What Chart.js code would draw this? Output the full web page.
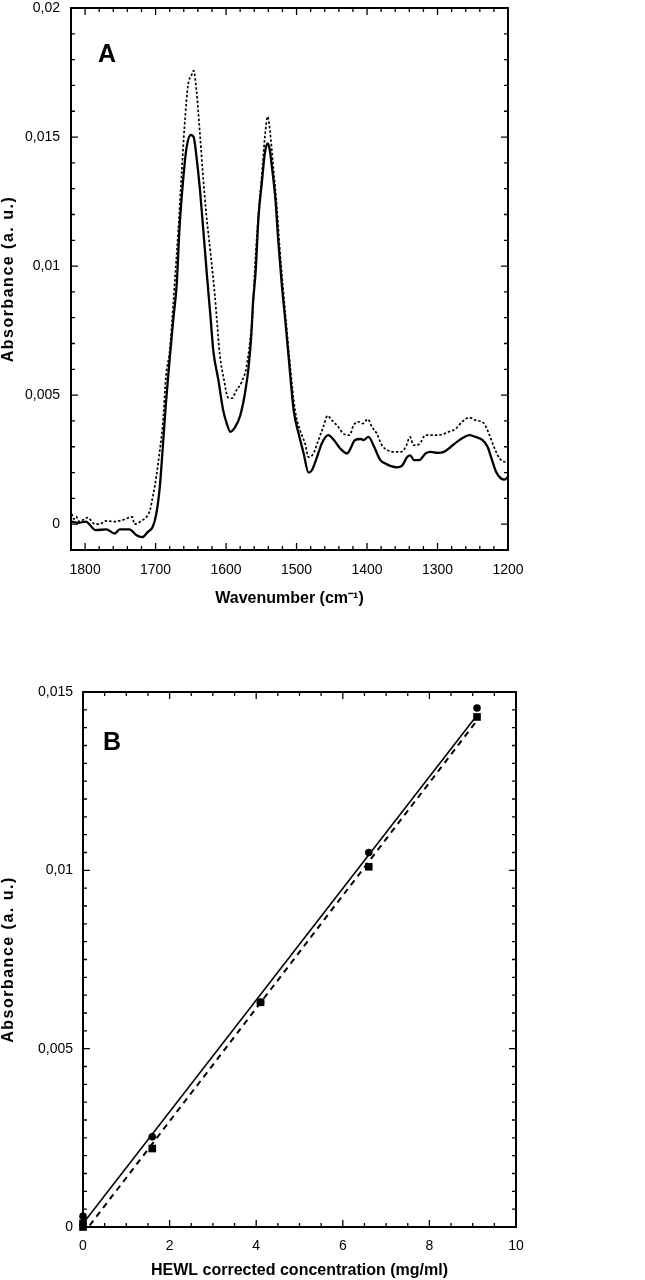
<!DOCTYPE html>
<html><head><meta charset="utf-8">
<script src="https://cdn.jsdelivr.net/npm/chart.js@4"></script>
<style>
html,body{margin:0;padding:0;background:#fff;}
#wa{position:absolute;left:0;top:0;width:645px;height:630px;}
#wb{position:absolute;left:0;top:630px;width:645px;height:650px;}
</style></head><body>
<div id="wa"><canvas id="ca" width="645" height="630"></canvas></div>
<div id="wb"><canvas id="cb" width="645" height="650"></canvas></div>
<script>
// ---------- Panel A data ----------
const wnSolid = [1819,1810,1799,1785,1770,1758,1751,1737,1727,1719,1711,1704,1699,1694,1690,1685,1680,1675,1670,1666,1661,1656,1650,1646,1642,1637,1632,1627,1622,1618,1611,1604,1599,1594,1587,1580,1573,1568,1564,1562,1558,1554,1549,1545,1541,1538,1535,1530,1526,1521,1516,1511,1504,1497,1490,1483,1478,1471,1464,1455,1447,1438,1428,1424,1417,1409,1405,1398,1390,1381,1374,1367,1357,1350,1343,1339,1333,1326,1317,1310,1300,1291,1281,1272,1262,1255,1246,1236,1229,1224,1217,1210,1205,1200];
const absSolid = [0.0001,0.00005,0.0001,-0.00023,-0.0002,-0.00036,-0.0002,-0.0002,-0.00043,-0.0005,-0.0003,-0.0001,0.0004,0.00145,0.0029,0.0048,0.0064,0.0079,0.0093,0.0115,0.0133,0.0146,0.01508,0.0150,0.01424,0.01295,0.0113,0.0096,0.0080,0.0067,0.0056,0.0044,0.0039,0.00358,0.00377,0.0042,0.0051,0.0061,0.0074,0.0085,0.0098,0.0119,0.0133,0.01437,0.01475,0.0145,0.01385,0.0126,0.0110,0.0093,0.0079,0.0064,0.0044,0.0035,0.00275,0.0020,0.0021,0.0026,0.00314,0.00345,0.00326,0.00293,0.00274,0.0029,0.00326,0.0033,0.00326,0.00338,0.0030,0.00248,0.00235,0.00226,0.0022,0.00228,0.0026,0.00267,0.00248,0.00248,0.00274,0.0028,0.00276,0.0028,0.0030,0.0032,0.00338,0.00345,0.00338,0.00326,0.0030,0.0026,0.00203,0.00177,0.00173,0.00183];
const wnDashed = [1819,1816,1813,1808,1801,1796,1789,1780,1770,1758,1747,1733,1730,1720,1713,1708,1704,1699,1694,1690,1685,1680,1675,1672,1668,1663,1659,1654,1649,1646,1642,1637,1633,1628,1622,1616,1613,1609,1603,1597,1592,1585,1578,1571,1566,1562,1559,1554,1549,1545,1541,1538,1533,1528,1524,1519,1515,1509,1502,1495,1488,1483,1476,1469,1462,1456,1450,1443,1433,1425,1419,1412,1406,1399,1393,1386,1379,1371,1362,1352,1345,1339,1334,1326,1317,1305,1293,1284,1274,1265,1255,1246,1234,1227,1220,1212,1205,1200];
const absDashed = [0.0004,0.0002,0.0003,0.0001,0.0002,0.00026,0.00005,0.0,0.00013,0.0001,0.00016,0.00028,0.0,0.00013,0.00028,0.00054,0.00106,0.00183,0.00287,0.0038,0.0058,0.0067,0.0085,0.0097,0.0113,0.0136,0.0154,0.0170,0.0174,0.01757,0.0168,0.0151,0.0136,0.0120,0.0105,0.0089,0.0079,0.0066,0.0056,0.0049,0.00488,0.0052,0.0055,0.0061,0.0071,0.0083,0.0100,0.0120,0.0136,0.0150,0.01579,0.0153,0.01385,0.0123,0.01075,0.0091,0.0079,0.0061,0.0044,0.00364,0.00313,0.0026,0.00274,0.00326,0.00377,0.0042,0.00403,0.00384,0.0035,0.00345,0.00384,0.00397,0.0039,0.00407,0.00377,0.0035,0.00306,0.00287,0.0028,0.0028,0.0030,0.00338,0.00306,0.0031,0.00345,0.00345,0.00348,0.00358,0.0037,0.00397,0.00413,0.00403,0.0039,0.0035,0.0030,0.00255,0.00242,0.0025];
const xTicksA = [1800,1700,1600,1500,1400,1300,1200];
const yTicksA = [0,0.005,0.01,0.015,0.02];

// ---------- Panel B data ----------
const concCircles = [0,1.6,4.1,6.6,9.1];
const absCircles  = [0.0003,0.00253,0.0063,0.0105,0.01455];
const concSquares = [0,0,1.6,4.1,6.6,9.1];
const absSquares  = [0.0001,0.0,0.0022,0.0063,0.0101,0.0143];
const fitX        = [0,9.1];
const fitSolid    = [0.0001,0.01435];
const fitDashed   = [-0.0002,0.0142];
const xTicksB = [0,2,4,6,8,10];
const yTicksB = [0,0.005,0.01,0.015];

const FONT = '"Liberation Sans", Arial, Helvetica, sans-serif';
Chart.defaults.color = '#000';
Chart.defaults.font.family = FONT;

const pts = (xs, ys) => xs.map((x, i) => ({x: x, y: ys[i]}));
const fmtComma = v => String(Math.round(v * 1e6) / 1e6).replace('.', ',');

const frameTicks = {
  id: 'frameTicks',
  afterDatasetsDraw(chart, args, o) {
    const {ctx, chartArea: a} = chart;
    const xs = chart.scales.x, ys = chart.scales.y;
    ctx.save();
    ctx.strokeStyle = '#000';
    ctx.lineWidth = 1.3;
    ctx.beginPath();
    const tx = (v, len) => { const p = xs.getPixelForValue(v);
      ctx.moveTo(p, a.bottom); ctx.lineTo(p, a.bottom - len);
      ctx.moveTo(p, a.top); ctx.lineTo(p, a.top + len); };
    const ty = (v, len) => { const p = ys.getPixelForValue(v);
      ctx.moveTo(a.left, p); ctx.lineTo(a.left + len, p);
      ctx.moveTo(a.right, p); ctx.lineTo(a.right - len, p); };
    const nx = Math.round((o.xMax - o.xMin) / o.xStep);
    for (let i = 0; i <= nx; i++) tx(o.xMin + i * o.xStep, 4);
    const ny = Math.round((o.yMax - o.yMin) / o.yStep);
    for (let i = 0; i <= ny; i++) ty(o.yMin + i * o.yStep, 4);
    o.xMajor.forEach(v => tx(v, 7));
    o.yMajor.forEach(v => ty(v, 7));
    ctx.stroke();
    ctx.lineWidth = 2;
    ctx.strokeRect(a.left, a.top, a.right - a.left, a.bottom - a.top);
    ctx.fillStyle = '#000';
    ctx.font = 'bold 25px ' + FONT;
    ctx.textAlign = 'left';
    ctx.textBaseline = 'alphabetic';
    ctx.fillText(o.letter, a.left + o.lx, a.top + o.ly);
    ctx.save();
    ctx.translate(9, (a.top + a.bottom) / 2);
    ctx.rotate(-Math.PI / 2);
    ctx.font = 'bold 16px ' + FONT;
    try { ctx.letterSpacing = '1.5px'; } catch (e) {}
    ctx.textAlign = 'center';
    ctx.textBaseline = 'middle';
    ctx.fillText(o.yTitle, 0, 0);
    ctx.restore();
    ctx.restore();
  }
};
Chart.register(frameTicks);

const tickFont = {size: 14, family: FONT};
const titleFont = {size: 16, weight: 'bold', family: FONT};

new Chart(document.getElementById('ca'), {
  type: 'line',
  data: {datasets: [
    {data: pts(wnDashed, absDashed), borderColor: '#000', borderWidth: 1.7, borderDash: [2.5, 2],
     pointRadius: 0, cubicInterpolationMode: 'monotone'},
    {data: pts(wnSolid, absSolid), borderColor: '#000', borderWidth: 2.3,
     pointRadius: 0, cubicInterpolationMode: 'monotone'}
  ]},
  options: {
    responsive: false, animation: false, events: [],
    layout: {padding: {top: 8, right: 137, left: 0, bottom: 0}},
    plugins: {
      legend: {display: false}, tooltip: {enabled: false},
      frameTicks: {xMin: 1200, xMax: 1820, xStep: 20, yMin: -0.001, yMax: 0.02, yStep: 0.001,
        xMajor: xTicksA, yMajor: yTicksA, letter: 'A', lx: 27, ly: 54, yTitle: 'Absorbance (a. u.)'}
    },
    scales: {
      x: {type: 'linear', reverse: true, min: 1200, max: 1820,
        grid: {display: false, drawTicks: false}, border: {display: false},
        afterBuildTicks: s => { s.ticks = xTicksA.map(v => ({value: v})); },
        afterFit: s => { s.height = 80; },
        ticks: {padding: 12, font: tickFont, maxRotation: 0, autoSkip: false, callback: v => String(v)},
        title: {display: true, text: 'Wavenumber (cm⁻¹)', font: titleFont, padding: {top: 0, bottom: 22}}
      },
      y: {type: 'linear', min: -0.001, max: 0.02,
        grid: {display: false, drawTicks: false}, border: {display: false},
        afterBuildTicks: s => { s.ticks = yTicksA.map(v => ({value: v})); },
        afterFit: s => { s.width = 71; s.paddingTop = 0; s.paddingBottom = 0; },
        ticks: {padding: 11, font: tickFont, autoSkip: false, callback: v => fmtComma(v)}
      }
    }
  }
});

new Chart(document.getElementById('cb'), {
  type: 'line',
  data: {datasets: [
    {data: pts(fitX, fitSolid), borderColor: '#000', borderWidth: 1.6, pointRadius: 0},
    {data: pts(fitX, fitDashed), borderColor: '#000', borderWidth: 2, borderDash: [6, 5], pointRadius: 0},
    {data: pts(concCircles, absCircles), showLine: false, pointStyle: 'circle', pointRadius: 3.8,
     pointBackgroundColor: '#000', pointBorderColor: '#000', pointBorderWidth: 0, clip: false},
    {data: pts(concSquares, absSquares), showLine: false, pointStyle: 'rect', pointRadius: 5.4,
     pointBackgroundColor: '#000', pointBorderColor: '#000', pointBorderWidth: 0, clip: false}
  ]},
  options: {
    responsive: false, animation: false, events: [],
    layout: {padding: {top: 62, right: 129, left: 0, bottom: 0}},
    plugins: {
      legend: {display: false}, tooltip: {enabled: false},
      frameTicks: {xMin: 0, xMax: 10, xStep: 0.5, yMin: 0, yMax: 0.015, yStep: 0.0005,
        xMajor: xTicksB, yMajor: yTicksB, letter: 'B', lx: 20, ly: 58, yTitle: 'Absorbance (a. u.)'}
    },
    scales: {
      x: {type: 'linear', min: 0, max: 10,
        grid: {display: false, drawTicks: false}, border: {display: false},
        afterBuildTicks: s => { s.ticks = xTicksB.map(v => ({value: v})); },
        afterFit: s => { s.height = 53; },
        ticks: {padding: 11, font: tickFont, maxRotation: 0, autoSkip: false, callback: v => String(v)},
        title: {display: true, text: 'HEWL corrected concentration (mg/ml)', font: titleFont, padding: {top: 0, bottom: 0}}
      },
      y: {type: 'linear', min: 0, max: 0.015,
        grid: {display: false, drawTicks: false}, border: {display: false},
        afterBuildTicks: s => { s.ticks = yTicksB.map(v => ({value: v})); },
        afterFit: s => { s.width = 83; },
        ticks: {padding: 10, font: tickFont, autoSkip: false, callback: v => fmtComma(v)}
      }
    }
  }
});
</script>
</body></html>
